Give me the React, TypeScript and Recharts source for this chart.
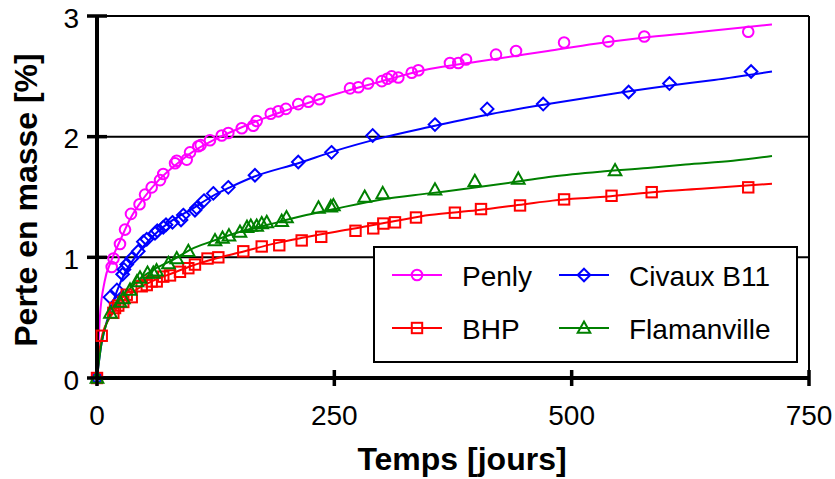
import React from 'react';
import { ComposedChart, Line, Scatter, XAxis, YAxis, CartesianGrid, ReferenceLine, Legend } from 'recharts';

type P = { t: number; v: number };
const mk = (a: number[][]): P[] => a.map(([t, v]) => ({ t, v }));

// measured points (time in days, mass loss in %)
const penlyPts = mk([[0,0],[15.5,0.92],[17.4,0.99],[24.2,1.11],[29.5,1.23],[35.8,1.36],[44.8,1.44],[50.6,1.52],[57.6,1.58],[66.4,1.64],[69.8,1.69],[82.2,1.78],[84,1.80],[94.5,1.81],[98,1.87],[106.7,1.92],[109.2,1.93],[119,1.97],[131.4,2.01],[138.3,2.03],[152.5,2.07],[164.6,2.09],[168.2,2.13],[183,2.19],[191,2.21],[199,2.23],[212,2.27],[222.6,2.29],[234.2,2.31],[266.5,2.40],[275.3,2.41],[285.5,2.44],[300,2.46],[305.8,2.48],[310.4,2.50],[317.4,2.49],[331.5,2.53],[338.5,2.55],[371.8,2.61],[380.6,2.61],[388.7,2.64],[420.3,2.68],[441.4,2.71],[492,2.78],[538.6,2.79],[576.5,2.83],[686,2.87]]);
const civauxPts = mk([[0,0],[13.7,0.67],[21,0.73],[27,0.86],[28.4,0.90],[31.3,0.94],[36.6,0.99],[43.5,1.05],[48.8,1.13],[52.4,1.15],[61.1,1.20],[63.5,1.22],[69.8,1.25],[72.7,1.27],[79.5,1.29],[88.5,1.31],[90.9,1.35],[103.2,1.39],[105,1.41],[112.7,1.47],[122.5,1.53],[138.3,1.58],[166.4,1.68],[212,1.79],[247,1.87],[290.4,2.01],[356,2.10],[411,2.23],[470,2.27],[560,2.37],[603,2.44],[689,2.54]]);
const bhpPts = mk([[0,0],[5,0.35],[17.2,0.54],[19,0.58],[22.4,0.60],[27.7,0.63],[31.3,0.69],[36.6,0.67],[47.1,0.76],[52.4,0.77],[57.6,0.80],[62.9,0.80],[69.8,0.84],[76.9,0.85],[87.4,0.88],[96.2,0.91],[103.2,0.94],[116.4,0.99],[127.8,1.00],[154.1,1.05],[173.5,1.09],[192,1.10],[215.6,1.14],[236.2,1.17],[272.3,1.22],[291,1.24],[301.6,1.28],[313.9,1.29],[336,1.33],[377,1.37],[404.5,1.40],[445.6,1.43],[492,1.48],[542,1.51],[584.3,1.54],[686,1.58]]);
const flamPts = mk([[0,0],[14.2,0.54],[24.2,0.63],[27.7,0.66],[34.8,0.73],[42.1,0.80],[45.3,0.83],[53.2,0.87],[59.3,0.87],[62.7,0.89],[75.3,0.95],[84,0.99],[96.2,1.05],[124.3,1.14],[132.2,1.16],[139,1.18],[150.6,1.21],[158,1.25],[162,1.26],[168.2,1.26],[173.5,1.28],[178.8,1.29],[194.6,1.30],[199.6,1.33],[233.3,1.41],[246.3,1.42],[249,1.43],[282,1.50],[301,1.53],[356,1.56],[398,1.63],[443.8,1.65],[545.7,1.72]]);

// model curves
const penlyFit = mk([[0,0],[3,0.5],[8,0.8],[15,0.97],[25,1.15],[35,1.32],[50,1.5],[65,1.64],[85,1.78],[100,1.87],[125,1.98],[150,2.07],[175,2.15],[200,2.22],[250,2.35],[300,2.46],[350,2.56],[400,2.62],[450,2.68],[475,2.71],[525,2.77],[575,2.82],[625,2.86],[675,2.90],[711,2.93]]);
const civauxFit = mk([[0,0],[4,0.25],[8,0.40],[14,0.56],[21,0.72],[30,0.88],[40,1.0],[50,1.1],[65,1.22],[80,1.31],[100,1.40],[120,1.50],[140,1.58],[166,1.67],[212,1.78],[250,1.88],[300,1.99],[350,2.08],[410,2.18],[475,2.27],[530,2.34],[600,2.42],[650,2.47],[711,2.54]]);
const bhpFit = mk([[0,0],[3,0.25],[6,0.37],[12,0.48],[20,0.57],[30,0.66],[45,0.75],[60,0.81],[80,0.87],[100,0.93],[125,0.99],[150,1.04],[190,1.12],[215,1.16],[265,1.23],[320,1.31],[350,1.35],[400,1.39],[450,1.44],[480,1.47],[530,1.50],[585,1.54],[640,1.57],[711,1.61]]);
const flamFit = mk([[0,0],[5,0.3],[10,0.45],[20,0.6],[30,0.7],[45,0.82],[60,0.9],[80,0.98],[100,1.07],[120,1.13],[150,1.21],[180,1.27],[215,1.34],[250,1.40],[300,1.48],[350,1.53],[400,1.58],[445,1.63],[480,1.67],[530,1.71],[580,1.74],[620,1.77],[670,1.80],[711,1.84]]);

const xTicks = [0, 250, 500, 750];
const yTicks = [0, 1, 2, 3];
const seriesNames = ['Penly', 'Civaux B11', 'BHP', 'Flamanville'];

const PINK = '#FF00FF';
const BLUE = '#0000FF';
const RED = '#FF0000';
const GREEN = '#008000';
const FONT = '"Liberation Sans", Arial, sans-serif';

const AXIS_Y = 378;
const AXIS_X = 97;

function Marker({ kind, cx, cy, color }: { kind: string; cx: number; cy: number; color: string }) {
  if (cx == null || cy == null) return null;
  const common = { fill: 'none', stroke: color, strokeWidth: 2 };
  if (kind === 'circle') return <circle cx={cx} cy={cy} r={5.3} {...common} />;
  if (kind === 'diamond') {
    const d = 6.3;
    return <polygon points={`${cx},${cy - d} ${cx + d},${cy} ${cx},${cy + d} ${cx - d},${cy}`} {...common} />;
  }
  if (kind === 'square') {
    const s = 5.2;
    return <rect x={cx - s} y={cy - s} width={2 * s} height={2 * s} {...common} />;
  }
  return <polygon points={`${cx},${cy - 6.5} ${cx + 6.3},${cy + 4.8} ${cx - 6.3},${cy + 4.8}`} {...common} />;
}

const shapeOf = (kind: string, color: string) => (p: any) => <Marker kind={kind} cx={p.cx} cy={p.cy} color={color} />;

function XTick(props: any) {
  const { x, payload } = props;
  return (
    <g>
      <line x1={x} x2={x} y1={AXIS_Y - 8} y2={AXIS_Y + 8} stroke="#000" strokeWidth={3.5} />
      <text x={x} y={425} textAnchor="middle" fontFamily={FONT} fontSize={28} fill="#000">{payload.value}</text>
    </g>
  );
}

function YTick(props: any) {
  const { y, payload } = props;
  return (
    <g>
      <line x1={AXIS_X - 10} x2={AXIS_X + 10} y1={y} y2={y} stroke="#000" strokeWidth={3.5} />
      <text x={79} y={y + 2} textAnchor="end" dominantBaseline="central" fontFamily={FONT} fontSize={28} fill="#000">{payload.value}</text>
    </g>
  );
}

const XTitle = () => (
  <text x={462} y={470} textAnchor="middle" fontFamily={FONT} fontSize={32} fontWeight="bold" fill="#000">Temps [jours]</text>
);
const YTitle = () => (
  <text x={37} y={200} transform="rotate(-90, 37, 200)" textAnchor="middle" fontFamily={FONT} fontSize={32} fontWeight="bold" fill="#000">Perte en masse [%]</text>
);

function LegendBox() {
  const items = [
    { name: seriesNames[0], color: PINK, kind: 'circle', x: 19, y: 29 },
    { name: seriesNames[1], color: BLUE, kind: 'diamond', x: 186, y: 29 },
    { name: seriesNames[2], color: RED, kind: 'square', x: 19, y: 82 },
    { name: seriesNames[3], color: GREEN, kind: 'triangle', x: 186, y: 82 },
  ];
  return (
    <svg width={425} height={117} style={{ display: 'block' }}>
      <rect x={1} y={1} width={423} height={115} fill="#fff" stroke="#000" strokeWidth={2} />
      {items.map((it) => (
        <g key={it.name}>
          <line x1={it.x} x2={it.x + 50} y1={it.y} y2={it.y} stroke={it.color} strokeWidth={2} />
          <Marker kind={it.kind} cx={it.x + 25} cy={it.y} color={it.color} />
          <text x={it.x + 70} y={it.y + 1} dominantBaseline="central" fontFamily={FONT} fontSize={28} fill="#000">{it.name}</text>
        </g>
      ))}
    </svg>
  );
}

export default function App() {
  return (
    <div style={{ position: 'absolute', left: 0, top: 0, width: 835, height: 479, background: '#fff' }}>
      <ComposedChart width={835} height={479} margin={{ top: 16, right: 26, bottom: 0, left: 0 }}>
        <CartesianGrid vertical={false} stroke="#000" strokeWidth={2} />
        <XAxis
          type="number"
          dataKey="t"
          domain={[0, 750]}
          ticks={xTicks}
          height={101}
          axisLine={{ stroke: '#000', strokeWidth: 4 }}
          tickLine={false}
          tick={<XTick />}
          interval={0}
          label={<XTitle />}
        />
        <YAxis
          type="number"
          dataKey="v"
          domain={[0, 3]}
          ticks={yTicks}
          width={97}
          axisLine={{ stroke: '#000', strokeWidth: 4 }}
          tickLine={false}
          tick={<YTick />}
          interval={0}
          label={<YTitle />}
        />
        <ReferenceLine x={750} stroke="#000" strokeWidth={2} />
        <Line data={penlyFit} dataKey="v" type="monotone" stroke={PINK} strokeWidth={2} dot={false} activeDot={false} isAnimationActive={false} legendType="none" />
        <Scatter data={penlyPts} dataKey="v" shape={shapeOf('circle', PINK)} isAnimationActive={false} legendType="none" />
        <Line data={civauxFit} dataKey="v" type="monotone" stroke={BLUE} strokeWidth={2} dot={false} activeDot={false} isAnimationActive={false} legendType="none" />
        <Scatter data={civauxPts} dataKey="v" shape={shapeOf('diamond', BLUE)} isAnimationActive={false} legendType="none" />
        <Line data={bhpFit} dataKey="v" type="monotone" stroke={RED} strokeWidth={2} dot={false} activeDot={false} isAnimationActive={false} legendType="none" />
        <Scatter data={bhpPts} dataKey="v" shape={shapeOf('square', RED)} isAnimationActive={false} legendType="none" />
        <Line data={flamFit} dataKey="v" type="monotone" stroke={GREEN} strokeWidth={2} dot={false} activeDot={false} isAnimationActive={false} legendType="none" />
        <Scatter data={flamPts} dataKey="v" shape={shapeOf('triangle', GREEN)} isAnimationActive={false} legendType="none" />
        <Legend
          layout="horizontal"
          verticalAlign="middle"
          align="center"
          content={() => <LegendBox />}
          wrapperStyle={{ position: 'absolute', left: 373, top: 246, width: 425, height: 117, margin: 0, padding: 0 }}
        />
      </ComposedChart>
    </div>
  );
}
